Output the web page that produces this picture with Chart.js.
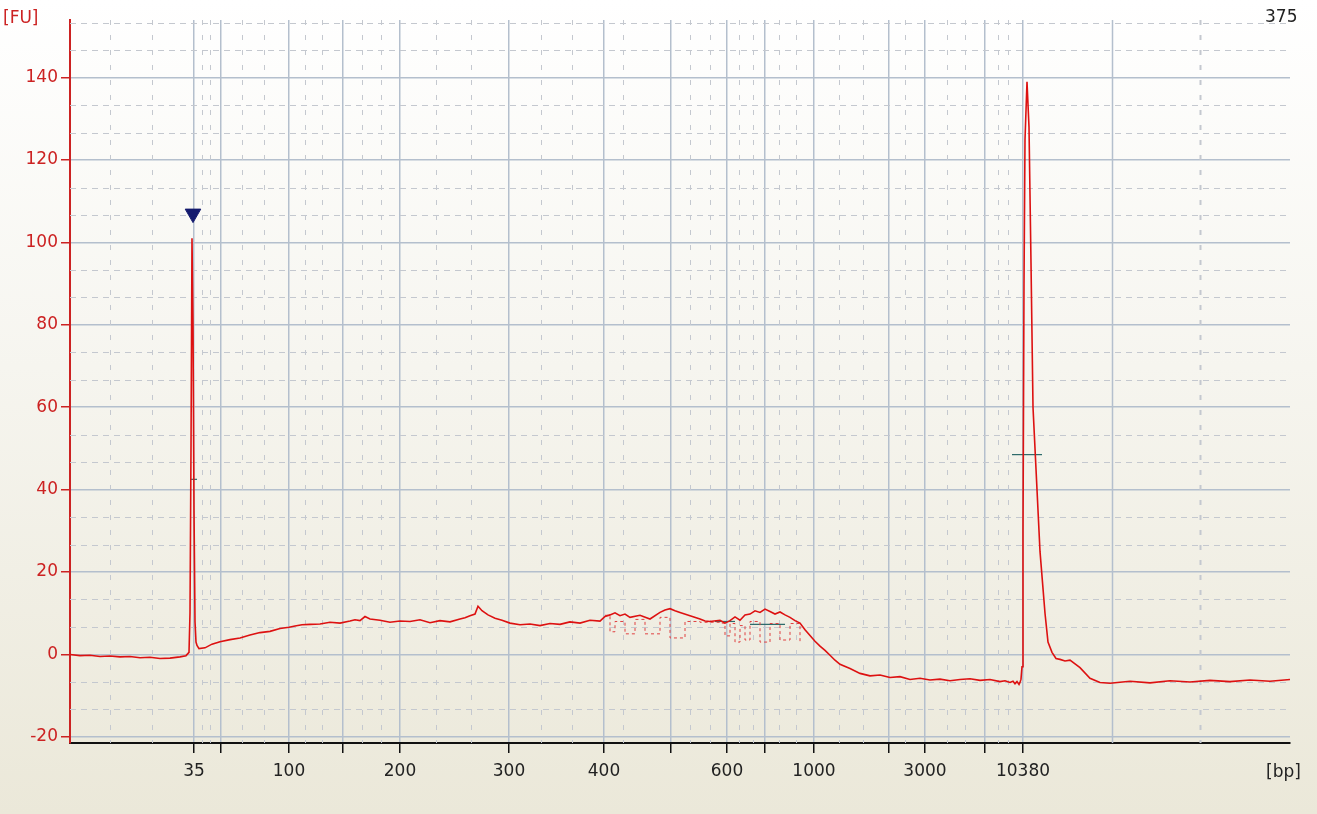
<!DOCTYPE html>
<html>
<head>
<meta charset="utf-8">
<script src="https://cdn.jsdelivr.net/npm/chart.js@4.4.0/dist/chart.umd.min.js"></script>
<style>
  html, body { margin: 0; padding: 0; }
  body { width: 1317px; height: 814px; background: linear-gradient(#ffffff 0%, #f6f5ef 45%, #ebe8d9 100%); }
  #wrap { position: relative; width: 1317px; height: 814px; }
  canvas { display: block; }
</style>
</head>
<body>
<div id="wrap"><canvas id="trazo" width="1317" height="814"></canvas></div>
<script>
// Posición de migración (0..1220) y fluorescencia [FU]
const posicion = [0,10,20,30,40,50,60,70,80,90,100,110,116,119,120,121,122,123,124,125,126,127,129,135,142,150,160,170,180,190,200,210,219,225,232,240,250,260,270,280,285,290,295,300,310,320,330,340,350,360,370,380,390,395,400,405,408,412,418,425,432,440,450,460,470,480,490,500,510,520,530,535,540,545,550,555,560,570,580,590,595,600,605,610,620,630,635,640,650,655,660,665,670,675,680,685,690,695,700,705,710,715,720,725,730,735,740,745,750,755,760,765,770,780,790,800,810,820,830,840,850,860,870,880,890,900,910,920,930,935,940,943,945,947,949,950,951,952,953,954,955,957,959,961,963,966,970,975,978,982,986,990,995,1000,1010,1020,1030,1040,1060,1080,1100,1120,1140,1160,1180,1200,1220];
const fluorescencia = [0,-0.3,-0.2,-0.5,-0.4,-0.6,-0.5,-0.8,-0.7,-1.0,-0.9,-0.6,-0.3,0.5,10,50,101,80,35,8,3,2.2,1.4,1.6,2.5,3.1,3.6,4.0,4.7,5.3,5.6,6.3,6.6,6.9,7.2,7.3,7.4,7.8,7.6,8.1,8.4,8.2,9.2,8.6,8.3,7.8,8.1,8.0,8.4,7.7,8.2,7.9,8.6,8.9,9.4,9.8,11.7,10.6,9.6,8.8,8.3,7.6,7.2,7.4,7.0,7.5,7.3,7.9,7.6,8.3,8.1,9.2,9.6,10.1,9.4,9.8,9.0,9.5,8.6,10.2,10.8,11.1,10.6,10.2,9.4,8.6,8.1,8.0,8.3,7.6,8.2,9.1,8.3,9.6,9.8,10.6,10.2,11.0,10.4,9.8,10.3,9.6,9.0,8.2,7.6,6.0,4.6,3.2,2.0,1.0,-0.2,-1.4,-2.4,-3.4,-4.6,-5.2,-5.0,-5.6,-5.4,-6.1,-5.8,-6.2,-6.0,-6.4,-6.1,-5.9,-6.3,-6.1,-6.6,-6.4,-6.8,-6.5,-7.1,-6.6,-7.3,-6.8,-6,-3,30,90,125,139,128,95,60,45,25,10,3,0.5,-1.0,-1.2,-1.6,-1.4,-3.2,-5.8,-6.8,-7.0,-6.5,-6.9,-6.4,-6.7,-6.3,-6.6,-6.2,-6.5,-6.1,-6.4,-6.2,-6.0,-6.3,-6.2];
// Picos truncados (trazo discontinuo rojo bajo la banda 500-1000 bp)
const posicionTrunc = [535,540,545,555,565,575,590,600,615,630,650,655,660,665,670,675,680,690,700,710,720,730];
const fluorTrunc = [9.5,5.5,8,5,8.5,5,9,4,8,7.8,7.6,4.5,7.5,3,7,3.5,8,3,7.5,3.5,7.5,3];
// Ticks
const etiquetasY = [-20,0,20,40,60,80,100,120,140];
const ticksX = [124,151,219,273,330,439,534,601,657,695,744,819,855,915,953];
const etiquetasX = {124:'35',219:'100',330:'200',439:'300',534:'400',657:'600',744:'1000',855:'3000',953:'10380'};
const rejillaMenorX = [40,82,132,140,172,194,235,252,292,311,366,401,471,502,553,620,640,669,683,709,726,769,793,835,877,895,928,938,1130];
const marcaPico = [123, 107];

const ctx = document.getElementById('trazo').getContext('2d');

const rejillaMenor = {
  id: 'rejillaMenor',
  beforeDatasetsDraw(chart) {
    const { ctx, chartArea: a, scales: { x, y } } = chart;
    ctx.save();
    ctx.strokeStyle = '#c4c8cf';
    ctx.lineWidth = 1;
    ctx.setLineDash([6, 5]);
    for (let v = -20; v < 154; v += 20 / 3) {
      if (Math.abs(Math.round(v / 20) * 20 - v) < 0.1) continue;
      const py = Math.round(y.getPixelForValue(v)) + 0.5;
      ctx.beginPath(); ctx.moveTo(a.left, py); ctx.lineTo(a.right, py); ctx.stroke();
    }
    ctx.setLineDash([5, 10]);
    rejillaMenorX.forEach(v => {
      const px = Math.round(x.getPixelForValue(v)) + 0.5;
      ctx.lineWidth = v === 1130 ? 2 : 1;
      ctx.beginPath(); ctx.moveTo(px, a.top); ctx.lineTo(px, a.bottom); ctx.stroke();
    });
    ctx.setLineDash([]);
    ctx.lineWidth = 1.5;
    ctx.strokeStyle = '#b4bfcd';
    const px = Math.round(x.getPixelForValue(1042)) + 0.5;
    ctx.beginPath(); ctx.moveTo(px, a.top); ctx.lineTo(px, a.bottom); ctx.stroke();
    ctx.restore();
  },
  afterDraw(chart) {
    const { ctx } = chart;
    ctx.save();
    ctx.font = '17px "DejaVu Sans", sans-serif';
    ctx.fillStyle = '#cc2222';
    ctx.textBaseline = 'top';
    ctx.fillText('[FU]', 3, 10);
    ctx.fillStyle = '#222';
    ctx.fillText('375', 1265, 9);
    ctx.fillText('[bp]', 1266, 764);
    ctx.restore();
  }
};

new Chart(ctx, {
  type: 'line',
  data: {
    datasets: [
      {
        data: posicion.map((p, i) => ({ x: p, y: fluorescencia[i] })),
        borderColor: '#dd1111', borderWidth: 1.6, pointRadius: 0, tension: 0
      },
      {
        data: posicionTrunc.map((p, i) => ({ x: p, y: fluorTrunc[i] })),
        borderColor: '#e04040', borderWidth: 1, borderDash: [3, 3], pointRadius: 0, stepped: true
      },
      { data: [{ x: 121, y: 42.5 }, { x: 127, y: 42.5 }], borderColor: '#2e6b6b', borderWidth: 1.2, pointRadius: 0 },
      { data: [{ x: 942, y: 48.5 }, { x: 972, y: 48.5 }], borderColor: '#2e6b6b', borderWidth: 1.2, pointRadius: 0 },
      { data: [{ x: 645, y: 8 }, { x: 665, y: 8 }], borderColor: '#2e6b6b', borderWidth: 1.2, pointRadius: 0 },
      { data: [{ x: 680, y: 7.3 }, { x: 715, y: 7.3 }], borderColor: '#2e6b6b', borderWidth: 1.2, pointRadius: 0 },
      {
        data: [{ x: marcaPico[0], y: marcaPico[1] }],
        showLine: false, pointStyle: 'triangle', rotation: 180, pointRadius: 9,
        backgroundColor: '#141a6e', borderColor: '#141a6e'
      }
    ]
  },
  options: {
    responsive: false,
    animation: false,
    layout: { padding: { top: 20, right: 27, left: 0, bottom: 0 } },
    plugins: { legend: { display: false }, tooltip: { enabled: false } },
    scales: {
      x: {
        type: 'linear', min: 0, max: 1220,
        afterBuildTicks: s => { s.ticks = ticksX.map(v => ({ value: v })); },
        afterFit: s => { s.height = 71; },
        ticks: {
          autoSkip: false, maxRotation: 0, color: '#222', padding: 8,
          font: { family: '"DejaVu Sans", sans-serif', size: 17 },
          callback: v => etiquetasX[v] || ''
        },
        grid: { color: '#b4bfcd', lineWidth: 1.5, tickLength: 10, tickColor: '#111' },
        border: { color: '#111', width: 2 }
      },
      y: {
        min: -21.5, max: 154,
        afterBuildTicks: s => { s.ticks = etiquetasY.map(v => ({ value: v })); },
        afterFit: s => { s.width = 70; },
        ticks: {
          color: '#cc2222', padding: 3,
          font: { family: '"DejaVu Sans", sans-serif', size: 17 }
        },
        grid: { color: '#b4bfcd', lineWidth: 1.5, tickLength: 9, tickColor: '#cc2222' },
        border: { color: '#cc2222', width: 2 }
      }
    }
  },
  plugins: [rejillaMenor]
});
</script>
</body>
</html>
